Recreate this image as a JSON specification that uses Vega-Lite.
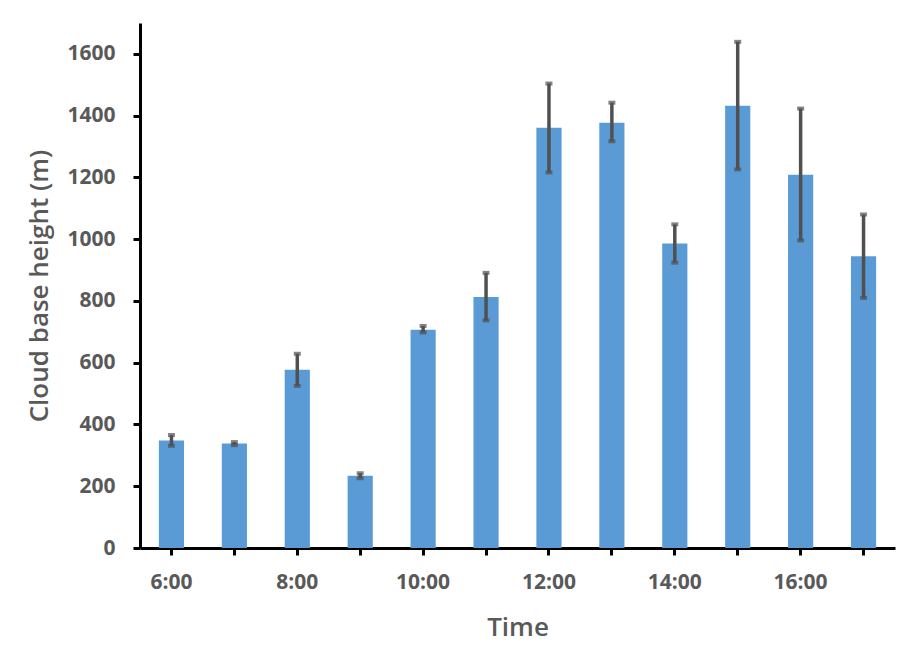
{
  "$schema": "https://vega.github.io/schema/vega-lite/v6.json",
  "width": 755,
  "height": 525,
  "autosize": {"type": "none"},
  "padding": {"left": 140, "top": 23, "right": 15, "bottom": 113},
  "background": "white",
  "config": {
    "view": {"stroke": null},
    "axis": {
      "labelFont": "Open Sans",
      "labelFontWeight": "bold",
      "labelColor": "#595959",
      "labelFontSize": 21,
      "titleFont": "Open Sans",
      "titleFontWeight": 600,
      "titleColor": "#595959",
      "titleFontSize": 26,
      "domainColor": "black",
      "domainWidth": 3,
      "tickColor": "black",
      "tickWidth": 3,
      "tickSize": 7,
      "grid": false
    }
  },
  "data": {
    "values": [
      {"time": "6:00", "height": 348, "lo": 331, "hi": 366},
      {"time": "7:00", "height": 338, "lo": 333, "hi": 343},
      {"time": "8:00", "height": 577, "lo": 525, "hi": 629},
      {"time": "9:00", "height": 234, "lo": 226, "hi": 242},
      {"time": "10:00", "height": 707, "lo": 698, "hi": 719},
      {"time": "11:00", "height": 813, "lo": 737, "hi": 891},
      {"time": "12:00", "height": 1361, "lo": 1216, "hi": 1504},
      {"time": "13:00", "height": 1377, "lo": 1317, "hi": 1442},
      {"time": "14:00", "height": 986, "lo": 924, "hi": 1048},
      {"time": "15:00", "height": 1432, "lo": 1226, "hi": 1639},
      {"time": "16:00", "height": 1209, "lo": 996, "hi": 1423},
      {"time": "17:00", "height": 945, "lo": 810, "hi": 1080}
    ]
  },
  "encoding": {
    "x": {
      "field": "time",
      "type": "ordinal",
      "sort": null,
      "scale": {"paddingInner": 0.6, "paddingOuter": 0.3},
      "axis": {
        "title": "Time",
        "labelAngle": 0,
        "labelPadding": 16,
        "titlePadding": 22,
        "labelExpr": "indexof(['6:00','8:00','10:00','12:00','14:00','16:00'], datum.label) >= 0 ? datum.label : ''"
      }
    }
  },
  "layer": [
    {
      "mark": {"type": "bar", "color": "#5B9BD5"},
      "encoding": {
        "y": {
          "field": "height",
          "type": "quantitative",
          "scale": {"domain": [0, 1700], "nice": false},
          "axis": {
            "title": "Cloud base height (m)",
            "format": "d",
            "values": [0, 200, 400, 600, 800, 1000, 1200, 1400, 1600],
            "labelPadding": 18,
            "titlePadding": 14
          }
        }
      }
    },
    {
      "mark": {
        "type": "errorbar",
        "color": "#505050",
        "rule": {"strokeWidth": 3.5},
        "ticks": {"size": 7, "thickness": 4, "color": "#505050"}
      },
      "encoding": {
        "y": {"field": "lo", "type": "quantitative", "title": "Cloud base height (m)"},
        "y2": {"field": "hi"}
      }
    }
  ]
}
